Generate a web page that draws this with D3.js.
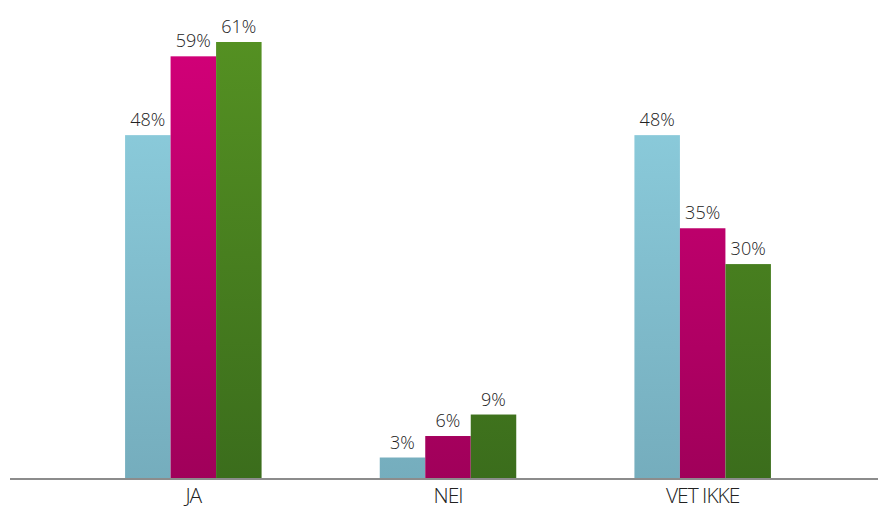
<!DOCTYPE html>
<html>
<head>
<meta charset="utf-8">
<script src="https://cdn.jsdelivr.net/npm/d3@7"></script>
<style>
  body { margin: 0; background: #fff; }
  svg { display: block; }
</style>
</head>
<body>
<div id="chart"></div>
<script>
// chart data
var categories = ["JA", "NEI", "VET IKKE"];
var seriesNames = ["s1", "s2", "s3"];
var series1 = [48, 3, 48];
var series2 = [59, 6, 35];
var series3 = [61, 9, 30];

var svgWidth = 878;
var svgHeight = 508;

// colours: top and bottom of each gradient
var colors = [
  ["#8fd1e1", "#75adbd"],
  ["#d20078", "#a0005a"],
  ["#549022", "#3b6d1c"]
];

var svg = d3.select("#chart")
  .append("svg")
  .attr("width", svgWidth)
  .attr("height", svgHeight);

var baseY = 479;

var defs = svg.append("defs");
colors.forEach(function(c, i) {
  var g = defs.append("linearGradient")
    .attr("id", "grad" + i)
    .attr("gradientUnits", "userSpaceOnUse")
    .attr("x1", 0).attr("y1", 42)
    .attr("x2", 0).attr("y2", baseY);
  g.append("stop").attr("offset", "0%").attr("stop-color", c[0]);
  g.append("stop").attr("offset", "100%").attr("stop-color", c[1]);
});

var x0 = d3.scaleBand()
  .domain(categories)
  .range([66, 830]);

var x1 = d3.scaleBand()
  .domain(seriesNames)
  .range([0, 136.5]);

var y = d3.scaleLinear()
  .domain([0, 61])
  .range([baseY, 42]);

var rows = categories.map(function(c, i) {
  return { cat: c, values: [series1[i], series2[i], series3[i]] };
});

var groups = svg.selectAll(".group")
  .data(rows)
  .enter()
  .append("g")
  .attr("class", "group")
  .attr("transform", d => `translate(${x0(d.cat) + x0.bandwidth() / 2 - 68.25}, 0)`);

groups.selectAll("rect")
  .data(d => d.values.map((v, i) => ({ key: seriesNames[i], value: v, i: i })))
  .enter()
  .append("rect")
  .attr("x", d => x1(d.key))
  .attr("y", d => y(d.value))
  .attr("width", x1.bandwidth())
  .attr("height", d => baseY - y(d.value))
  .attr("fill", d => `url(#grad${d.i})`);

groups.selectAll("text")
  .data(d => d.values.map((v, i) => ({ key: seriesNames[i], value: v })))
  .enter()
  .append("text")
  .attr("x", d => x1(d.key) + x1.bandwidth() / 2)
  .attr("y", d => y(d.value) - 9)
  .attr("text-anchor", "middle")
  .attr("font-family", "Open Sans, sans-serif")
  .attr("font-weight", 300)
  .attr("font-size", "18px")
  .attr("fill", "#222")
  .text(d => d.value + "%");

// axis
var xAxis = d3.axisBottom(x0).tickSize(0).tickPadding(0);
var axisG = svg.append("g")
  .attr("transform", `translate(0, ${baseY})`)
  .call(xAxis);

axisG.select(".domain").remove();
axisG.append("line")
  .attr("x1", 10).attr("x2", 878)
  .attr("y1", 0).attr("y2", 0)
  .attr("stroke", "#8c8c8c")
  .attr("stroke-width", 2);

axisG.selectAll(".tick text")
  .attr("font-family", "Open Sans, sans-serif")
  .attr("font-weight", 300)
  .attr("font-size", "21px")
  .attr("letter-spacing", "-1px")
  .attr("fill", "#222")
  .attr("y", 24)
  .attr("dy", null);
</script>
</body>
</html>
